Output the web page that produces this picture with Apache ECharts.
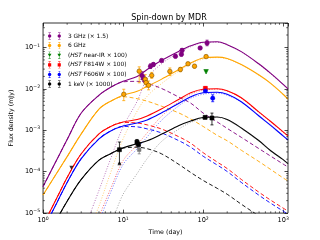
<!DOCTYPE html>
<html><head><meta charset="utf-8">
<script src="https://cdn.jsdelivr.net/npm/echarts@6/dist/echarts.min.js"></script>
<style>html,body{margin:0;padding:0;background:#fff}#c{width:320px;height:240px}</style>
</head><body><div id="c"></div>
<script>
// ---- axis tick values ----
const xMajorTicks = [1, 10, 100, 1000];
const yMajorTicks = [1e-5, 1e-4, 1e-3, 1e-2, 1e-1];

// ---- model curves (days) ----
const tModel = [1,1.5,2,3,5,7,10,15,20,30,50,70,100,150,200,300,500,700,1000,1150];
const r3Total = [4.36e-5,2.02e-4,5.99e-4,2.61e-3,7.03e-3,1.09e-2,1.52e-2,2.00e-2,2.94e-2,4.83e-2,8.15e-2,0.110,0.134,0.138,0.117,0.0793,0.0398,0.0236,0.0129,0.01005];
const r3Early = [4.36e-5,2.02e-4,5.99e-4,2.61e-3,7.03e-3,1.09e-2,1.48e-2,1.52e-2,1.36e-2,1.03e-2,6.30e-3,4.52e-3,2.61e-3,1.59e-3,1.11e-3,6.76e-4,3.59e-4,2.37e-4,1.53e-4,1.30e-4];
const r3LateT = [3.9,5,7,10,15,20,30,50,70,100,150,200,300,500,700,1000,1150];
const r3Late = [1e-5,3.55e-5,2.07e-4,1.21e-3,5.05e-3,1.79e-2,3.98e-2,7.51e-2,0.1045,0.1303,0.134,0.115,0.078,0.039,0.0231,0.0126,0.0098];

const r6Total = [2.74e-5,9.57e-5,2.31e-4,8.20e-4,3.25e-3,5.05e-3,7.03e-3,8.76e-3,1.154e-2,1.697e-2,2.94e-2,4.21e-2,5.55e-2,5.86e-2,5.40e-2,3.88e-2,2.17e-2,1.361e-2,7.43e-3,5.64e-3];
const r6Early = [2.74e-5,9.57e-5,2.31e-4,8.20e-4,3.25e-3,5.05e-3,6.47e-3,5.80e-3,5.05e-3,3.84e-3,2.61e-3,1.87e-3,1.24e-3,7.55e-4,5.58e-4,3.30e-4,1.75e-4,1.13e-4,7.07e-5,5.99e-5];
const r6LateT = [4.6,5,7,10,15,20,30,50,70,100,150,200,300,500,700,1000,1150];
const r6Late = [1e-5,1.47e-5,9.57e-5,6.23e-4,2.91e-3,6.65e-3,1.324e-2,2.71e-2,3.98e-2,5.25e-2,5.70e-2,5.25e-2,3.77e-2,2.12e-2,1.324e-2,7.23e-3,5.49e-3];

const f814Total = [5.16e-6,2.41e-5,7.26e-5,2.72e-4,8.20e-4,1.24e-3,1.59e-3,1.82e-3,2.21e-3,3.25e-3,5.64e-3,8.07e-3,9.78e-3,1.005e-2,9.01e-3,6.12e-3,2.75e-3,1.63e-3,9.16e-4,7.35e-4];
const f814Early = [5.16e-6,2.41e-5,7.26e-5,2.72e-4,8.20e-4,1.24e-3,1.55e-3,1.50e-3,1.35e-3,1.08e-3,6.95e-4,4.86e-4,2.88e-4,1.71e-4,1.19e-4,6.51e-5,3.18e-5,2.05e-5,1.32e-5,1.12e-5];
const f814LateT = [5.2,7,10,15,20,30,50,70,100,150,200,300,500,700,1000,1150];
const f814Late = [1e-5,3.96e-5,1.85e-4,4.47e-4,8.67e-4,2.15e-3,4.91e-3,7.43e-3,9.26e-3,9.78e-3,8.76e-3,5.96e-3,2.68e-3,1.59e-3,8.91e-4,7.14e-4];

const f606Total = [3.92e-6,1.83e-5,5.51e-5,2.07e-4,6.23e-4,9.67e-4,1.27e-3,1.50e-3,1.77e-3,2.61e-3,4.52e-3,6.47e-3,8.07e-3,8.29e-3,7.43e-3,4.91e-3,2.21e-3,1.31e-3,7.35e-4,5.89e-4];
const f606Early = [3.92e-6,1.83e-5,5.51e-5,2.07e-4,6.23e-4,9.67e-4,1.24e-3,1.21e-3,1.08e-3,8.67e-4,5.58e-4,3.90e-4,2.37e-4,1.45e-4,1.01e-4,5.51e-5,2.69e-5,1.73e-5,1.12e-5,9.46e-6];
const f606LateT = [5.5,7,10,15,20,30,50,70,100,150,200,300,500,700,1000,1150];
const f606Late = [1e-5,3.18e-5,1.49e-4,3.59e-4,6.95e-4,1.72e-3,3.94e-3,5.96e-3,7.43e-3,7.85e-3,7.03e-3,4.78e-3,2.15e-3,1.27e-3,7.14e-4,5.73e-4];

const xTotal = [1.455e-6,7.19e-6,1.94e-5,6.51e-5,1.91e-4,2.72e-4,3.79e-4,4.73e-4,5.58e-4,7.98e-4,1.31e-3,1.68e-3,2.03e-3,2.09e-3,1.82e-3,1.14e-3,5.58e-4,3.21e-4,1.96e-4,1.57e-4];
const xEarly = [1.455e-6,7.19e-6,1.94e-5,6.51e-5,1.91e-4,2.72e-4,3.69e-4,3.90e-4,3.59e-4,2.72e-4,1.49e-4,9.57e-5,6.16e-5,3.96e-5,2.85e-5,1.64e-5,8.48e-6,5.46e-6,3.5e-6,3.0e-6];
const xLateT = [8,10,15,20,30,50,70,100,150,200,300,500,700,1000,1150];
const xLate = [1e-5,2.85e-5,9.06e-5,2.07e-4,5.28e-4,1.08e-3,1.55e-3,1.93e-3,2.03e-3,1.77e-3,1.11e-3,5.43e-4,3.13e-4,1.91e-4,1.53e-4];

// ---- observations ----
const r3ObsT  = [17.2,18.0,22.0,23.9,30.3,45.1,53.5,54.6,91.8,112];
const r3ObsF  = [0.0211,0.0179,0.0353,0.0388,0.0483,0.0612,0.0684,0.0853,0.0973,0.128];
const r3ObsLo = [0.017,0.015,0.031,0.035,0.045,0.056,0.062,0.077,0.092,0.110];
const r3ObsHi = [0.026,0.021,0.040,0.043,0.052,0.067,0.075,0.094,0.103,0.150];

const r6ObsT  = [10.2,15.9,18.9,19.4,20.8,22.8,38.4,52.0,64.7,78.1,108.9];
const r6ObsF  = [0.0074,0.0268,0.0170,0.0142,0.0122,0.0211,0.0264,0.0294,0.0403,0.0353,0.0603];
const r6ObsLo = [0.0052,0.014,0.013,0.011,0.0095,0.018,0.021,0.026,0.037,0.032,0.057];
const r6ObsHi = [0.0098,0.034,0.022,0.018,0.0155,0.025,0.032,0.033,0.044,0.039,0.064];

const nirObsT = [108.9];
const nirObsF = [0.0259];

const f814ObsT  = [106.7];
const f814ObsF  = [0.0103];
const f814ObsLo = [0.0094];
const f814ObsHi = [0.0113];

const f606ObsT  = [106.7,131.8];
const f606ObsF  = [0.0089,0.00596];
const f606ObsLo = [0.0084,0.0049];
const f606ObsHi = [0.0094,0.0072];

const xObsT  = [9.0,14.9,15.6,105.9,129];
const xObsF  = [0.00034,0.000519,0.000455,0.00205,0.00198];
const xObsLo = [0.00016,0.00044,0.00040,0.0019,0.00135];
const xObsHi = [0.00052,0.00060,0.00052,0.0022,0.0026];
const xLimT = [2.26, 9.0];
const xLimF = [0.000124, 0.00016];
const xLimRot = [180, 0];
const xGreyT = [15.9];
const xGreyF = [0.00034];
const xGreyLo = [0.00027];
const xGreyHi = [0.00042];

const names = ['3 GHz (× 1.5)','6 GHz','(HST near-IR × 100)','(HST F814W × 100)','(HST F606W × 100)','1 keV (× 1000)'];
const C = {p:'#800080', o:'#FFA500', g:'#008000', r:'#FF0000', b:'#0000FF', k:'#000000'};

const zip = (a,b) => a.map((v,i)=>[v,b[i]]);
const zip4 = (a,b,c,d) => a.map((v,i)=>[v,b[i],c[i],d[i]]);

function lineS(t, f, color, kind){
  const ls = {color, width: kind==='solid'?1.1:0.9, type: kind==='solid'?'solid':(kind==='dash'?[4,2.5]:[1,1.6])};
  if (kind==='dot') ls.opacity = 0.6;
  return {type:'line', data: zip(t,f), showSymbol:false, symbol:'none', smooth:0.35, clip:true,
          lineStyle: ls, silent:true, z:2, animation:false};
}
function errRender(params, api){
  const x = api.value(0), lo = api.value(2), hi = api.value(3);
  const p1 = api.coord([x, lo]), p2 = api.coord([x, hi]);
  const cap = 1.5;
  const style = {stroke: api.visual('color'), lineWidth: 0.8};
  return {type:'group', children:[
    {type:'line', shape:{x1:p1[0],y1:p1[1],x2:p2[0],y2:p2[1]}, style},
    {type:'line', shape:{x1:p1[0]-cap,y1:p1[1],x2:p1[0]+cap,y2:p1[1]}, style},
    {type:'line', shape:{x1:p2[0]-cap,y1:p2[1],x2:p2[0]+cap,y2:p2[1]}, style}]};
}
function errS(t,f,lo,hi,color){
  return {type:'custom', name:'err', data: zip4(t,f,lo,hi), encode:{x:0,y:1},
          renderItem: errRender, itemStyle:{color}, z:3, silent:true, animation:false};
}
function ptS(name, t, f, color, symbol, size, border, rot){
  return {type:'scatter', name, data: zip(t,f), symbol, symbolSize:size, symbolRotate: rot||0,
          itemStyle:{color, borderColor: border||color, borderWidth: 0.6, opacity:1}, z:4, silent:true, animation:false};
}

// minor tick positions (axis decoration)
const xMinor = []; [1,10,100].forEach(d=>{for(let k=2;k<=9;k++) xMinor.push(k*d);});
const yMinor = []; [1e-5,1e-4,1e-3,1e-2,1e-1].forEach(d=>{for(let k=2;k<=9;k++) if(k*d<0.39) yMinor.push(k*d);});

function minorRender(params, api){
  const cs = params.coordSys;
  const v = api.value(0), axis = api.value(1);
  const L = 1.8, st = {stroke:'#000', lineWidth:0.6};
  if (axis === 0){
    const x = api.coord([v, 1e-3])[0];
    return {type:'group', children:[
      {type:'line', shape:{x1:x,y1:cs.y+cs.height,x2:x,y2:cs.y+cs.height-L}, style:st},
      {type:'line', shape:{x1:x,y1:cs.y,x2:x,y2:cs.y+L}, style:st}]};
  } else {
    const y = api.coord([10, v])[1];
    return {type:'group', children:[
      {type:'line', shape:{x1:cs.x,y1:y,x2:cs.x+L,y2:y}, style:st},
      {type:'line', shape:{x1:cs.x+cs.width,y1:y,x2:cs.x+cs.width-L,y2:y}, style:st}]};
  }
}
const minorData = xMinor.map(v=>[v,0]).concat(yMinor.map(v=>[v,1]));

function supFmt(v){
  const e = Math.round(Math.log10(v));
  if (Math.abs(Math.log10(v)-e) > 1e-6) return '';
  return '{b|10}{s|' + String(e).replace('-','−') + '}';
}
const rich = {b:{fontSize:6.6, fontFamily:'DejaVu Sans', color:'#000', lineHeight:9},
              s:{fontSize:4.6, fontFamily:'DejaVu Sans', color:'#000', verticalAlign:'top', lineHeight:6}};

// legend icons: two markers with error bars, box 0..18 x 0..8
const icoBars = (x)=>`M${x-0.25},0L${x+0.25},0L${x+0.25},8L${x-0.25},8Z M${x-1.4},0L${x+1.4},0L${x+1.4},0.45L${x-1.4},0.45Z M${x-1.4},7.55L${x+1.4},7.55L${x+1.4},8L${x-1.4},8Z `;
const icoCirc = (x)=>`M${x+2},4L${x+1.41},5.41L${x},6L${x-1.41},5.41L${x-2},4L${x-1.41},2.59L${x},2L${x+1.41},2.59Z `;
const icoTri = (x)=>`M${x-2.1},2.3L${x+2.1},2.3L${x},6Z `;
const icoSq = (x)=>`M${x-1.8},2.2L${x+1.8},2.2L${x+1.8},5.8L${x-1.8},5.8Z `;
const icon = f => 'path://M0,0L0.01,0L0.01,0.01Z M18,8L17.99,8L17.99,7.99Z ' + icoBars(3) + f(3) + icoBars(14) + f(14);

const baseAxis = ()=>({type:'log', logBase:10, splitLine:{show:false}, axisLine:{show:false}});

const option = {
  animation:false,
  backgroundColor:'#fff',
  title:{text:'Spin-down by MDR', left:164, top:9, textAlign:'center',
         textStyle:{fontSize:8, fontWeight:'normal', fontFamily:'DejaVu Sans', color:'#000'}},
  grid:{left:40, right:32, top:23, bottom:25, show:true, borderColor:'#333', borderWidth:1, containLabel:false},
  legend:{left:42, top:27.5, orient:'vertical', itemWidth:18, itemHeight:7, itemGap:2.6,
          itemStyle:{borderWidth:0},
          data: names.map((n,i)=>({name:n, icon: icon([icoCirc,icoCirc,icoTri,icoSq,icoCirc,icoCirc][i])})),
          textStyle:{fontSize:5.9, fontFamily:'DejaVu Sans', color:'#000', padding:[0,0,0,-1],
                     rich:{i:{fontSize:5.9, fontFamily:'DejaVu Sans', fontStyle:'italic', color:'#000'}}},
          formatter: n => n.replace('HST','{i|HST}'), selectedMode:false},
  xAxis:[
    Object.assign(baseAxis(), {min:1, max:1150, position:'bottom', name:'Time (day)', nameLocation:'middle', nameGap:13,
      nameTextStyle:{fontSize:6.3, fontFamily:'DejaVu Sans', color:'#000'},
      axisTick:{show:true, inside:true, length:3.5, lineStyle:{color:'#000', width:0.7}},
      axisLabel:{show:true, margin:3, formatter:supFmt, rich, showMaxLabel:false, interval:0}}),
    Object.assign(baseAxis(), {min:1, max:1150, position:'top',
      axisTick:{show:true, inside:true, length:3.5, lineStyle:{color:'#000', width:0.7}}, axisLabel:{show:false}})
  ],
  yAxis:[
    Object.assign(baseAxis(), {min:1e-5, max:0.39, position:'left', name:'Flux density (mJy)', nameLocation:'middle', nameGap:19,
      nameTextStyle:{fontSize:6.3, fontFamily:'DejaVu Sans', color:'#000'},
      axisTick:{show:true, inside:true, length:3.5, lineStyle:{color:'#000', width:0.7}},
      axisLabel:{show:true, margin:3, formatter:supFmt, rich, showMaxLabel:false, interval:0}}),
    Object.assign(baseAxis(), {min:1e-5, max:0.39, position:'right',
      axisTick:{show:true, inside:true, length:3.5, lineStyle:{color:'#000', width:0.7}}, axisLabel:{show:false}})
  ],
  series:[
    lineS(tModel, r3Total, C.p, 'solid'), lineS(tModel, r3Early, C.p, 'dash'), lineS(r3LateT, r3Late, C.p, 'dot'),
    lineS(tModel, r6Total, C.o, 'solid'), lineS(tModel, r6Early, C.o, 'dash'), lineS(r6LateT, r6Late, C.o, 'dot'),
    lineS(tModel, f814Total, C.r, 'solid'), lineS(tModel, f814Early, C.r, 'dash'), lineS(f814LateT, f814Late, C.r, 'dot'),
    lineS(tModel, f606Total, C.b, 'solid'), lineS(tModel, f606Early, C.b, 'dash'), lineS(f606LateT, f606Late, C.b, 'dot'),
    lineS(tModel, xTotal, C.k, 'solid'), lineS(tModel, xEarly, C.k, 'dash'), lineS(xLateT, xLate, '#555', 'dot'),
    errS(r3ObsT, r3ObsF, r3ObsLo, r3ObsHi, C.p),
    errS(r6ObsT, r6ObsF, r6ObsLo, r6ObsHi, C.o),
    errS(f814ObsT, f814ObsF, f814ObsLo, f814ObsHi, C.r),
    errS(f606ObsT, f606ObsF, f606ObsLo, f606ObsHi, C.b),
    errS(xObsT, xObsF, xObsLo, xObsHi, C.k),
    errS(xGreyT, xGreyF, xGreyLo, xGreyHi, '#777'),
    ptS(names[0], r3ObsT, r3ObsF, C.p, 'circle', 4.5),
    ptS(names[1], r6ObsT, r6ObsF, C.o, 'circle', 4.5, '#7a4f00'),
    ptS(names[2], nirObsT, nirObsF, C.g, 'triangle', 4.5, null, 180),
    ptS(names[3], f814ObsT, f814ObsF, C.r, 'rect', 4),
    ptS(names[4], f606ObsT, f606ObsF, C.b, 'circle', 4.2),
    ptS(names[5], xObsT, xObsF, C.k, 'rect', 4),
    {type:'scatter', name:'limits', data: xLimT.map((t,i)=>({value:[t,xLimF[i]], symbolRotate:xLimRot[i]})), symbol:'triangle', symbolSize:4,
     itemStyle:{color:'#000'}, z:4, silent:true, animation:false},
    ptS('grey', xGreyT, xGreyF, '#777', 'rect', 3.5),
    {type:'custom', name:'minor', data:minorData, encode:{x:0}, renderItem:minorRender, silent:true, z:5, clip:false, animation:false}
  ]
};
const chart = echarts.init(document.getElementById('c'), null, {renderer:'canvas', width:320, height:240});
chart.setOption(option);
</script></body></html>
